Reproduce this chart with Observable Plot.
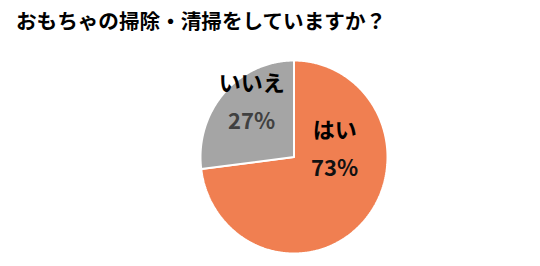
<!DOCTYPE html>
<html><head><meta charset="utf-8">
<script src="https://cdn.jsdelivr.net/npm/d3@7"></script>
<script src="https://cdn.jsdelivr.net/npm/@observablehq/plot@0.6"></script>
<style>
body{margin:0;background:#fff;width:540px;height:266px;overflow:hidden;font-family:"Noto Sans CJK JP",sans-serif}
#title{height:40px;line-height:40px;padding-left:16px;font-size:20.6px;font-weight:bold;color:#000;white-space:nowrap}
#chart svg{display:block}
</style></head><body>
<div id="title"></div>
<div id="chart"></div>
<script>
const title = "おもちゃの掃除・清掃をしていますか？";
const categories = ["はい", "いいえ"];
const values = [73, 27];

// styling / layout (not data)
const colors = ["#F07F51", "#A5A5A5"];
const pctColors = ["#111111", "#404040"];
const labelPlacement = [{angle: 81, r: 0.44}, {angle: -39, r: 0.72}];

document.getElementById("title").textContent = title;

const arcs = d3.pie().sort(null)(values);
const slices = arcs.map((a, i) => {
  const pts = [{x: 0, y: 0}];
  const n = Math.max(2, Math.ceil((a.endAngle - a.startAngle) / (Math.PI / 360)));
  for (let k = 0; k <= n; k++) {
    const t = a.startAngle + (a.endAngle - a.startAngle) * k / n;
    pts.push({x: Math.sin(t), y: Math.cos(t)});
  }
  pts.push({x: 0, y: 0});
  return pts;
});
const labels = categories.map((c, i) => {
  const t = labelPlacement[i].angle * Math.PI / 180;
  return {name: c, pct: values[i] + "%", x: labelPlacement[i].r * Math.sin(t), y: labelPlacement[i].r * Math.cos(t), i};
});

const marks = [];
slices.forEach((pts, i) => {
  marks.push(Plot.line(pts, {x: "x", y: "y", fill: colors[i], stroke: "white", strokeWidth: 2, strokeLinejoin: "miter"}));
});
marks.push(Plot.text(labels, {x: "x", y: "y", text: "name", dy: -19, fontSize: 22, fontWeight: "bold", fill: "#000"}));
labels.forEach((l, i) => {
  marks.push(Plot.text([l], {x: "x", y: "y", text: "pct", dy: 19, fontSize: 22, fontWeight: 600, fill: pctColors[i]}));
});

const chart = Plot.plot({
  width: 540, height: 226,
  marginLeft: 200, marginRight: 153, marginTop: 20, marginBottom: 13,
  style: {fontFamily: '"Noto Sans CJK JP", sans-serif', background: "#fff"},
  x: {domain: [-1, 1], axis: null},
  y: {domain: [-1, 1], axis: null},
  marks
});
document.getElementById("chart").appendChild(chart);
</script>
</body></html>
